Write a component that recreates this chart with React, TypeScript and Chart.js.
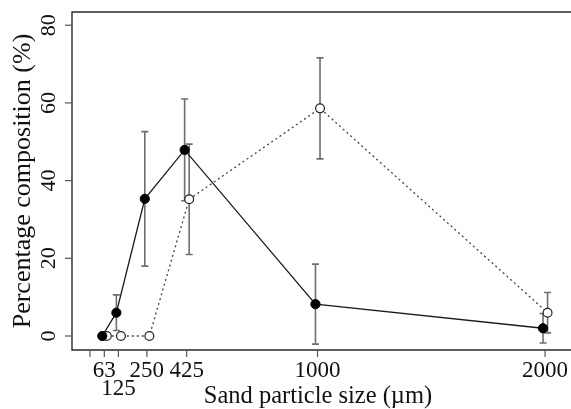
import React, { useEffect, useRef } from "react";
import { Chart, registerables } from "chart.js";

Chart.register(...registerables);

// ---- data ----
const sizes = [63, 125, 250, 425, 1000, 2000];
const filledMean = [0, 6.0, 35.3, 47.9, 8.2, 2.0];
const filledErr = [0, 4.6, 17.3, 13.1, 10.3, 3.8];
const openMean = [0, 0, 0, 35.2, 58.6, 6.0];
const openErr = [0, 0, 0, 14.2, 13.0, 5.2];
const xTickValues = [0, 63, 125, 250, 425, 1000, 2000];
const xTickLabels = ["", "63", "125", "250", "425", "1000", "2000"];
const xTickRow = [0, 0, 1, 0, 0, 0, 0];
const yTickValues = [0, 20, 40, 60, 80];
const xTitle = "Sand particle size (\u00b5m)";
const yTitle = "Percentage composition (%)";

const FILLED_SHIFT = -9;
const OPEN_SHIFT = 11;
const FONT = "'Liberation Serif', 'Times New Roman', serif";

const App = () => {
  const ref = useRef<HTMLCanvasElement | null>(null);

  useEffect(() => {
    if (!ref.current) return;

    const filledPts = sizes.map((s, i) => ({ x: s + FILLED_SHIFT, y: filledMean[i] }));
    const openPts = sizes.map((s, i) => ({ x: s + OPEN_SHIFT, y: openMean[i] }));

    const errorBars = {
      id: "errorBars",
      beforeDatasetsDraw(chart: any) {
        const { ctx, scales } = chart;
        const xs = scales.x, ys = scales.y;
        ctx.save();
        ctx.strokeStyle = "#6e6e6e";
        ctx.lineWidth = 1.6;
        const draw = (pts: any[], errs: number[]) => {
          pts.forEach((p, i) => {
            const e = errs[i];
            if (!e) return;
            const px = xs.getPixelForValue(p.x);
            const top = ys.getPixelForValue(p.y + e);
            const bot = ys.getPixelForValue(p.y - e);
            ctx.beginPath();
            ctx.moveTo(px, top);
            ctx.lineTo(px, bot);
            ctx.moveTo(px - 3.5, top);
            ctx.lineTo(px + 3.5, top);
            ctx.moveTo(px - 3.5, bot);
            ctx.lineTo(px + 3.5, bot);
            ctx.stroke();
          });
        };
        draw(filledPts, filledErr);
        draw(openPts, openErr);
        ctx.restore();
      },
    };

    const axesPlugin = {
      id: "axesR",
      afterDraw(chart: any) {
        const { ctx, scales, chartArea } = chart;
        const xs = scales.x, ys = scales.y;
        const { left, top, right, bottom } = chartArea;
        ctx.save();
        ctx.strokeStyle = "#2a2a2a";
        ctx.lineWidth = 1.4;
        ctx.beginPath();
        ctx.moveTo(right, top);
        ctx.lineTo(left, top);
        ctx.lineTo(left, bottom);
        ctx.lineTo(right, bottom);
        ctx.stroke();

        ctx.strokeStyle = "#555";
        ctx.lineWidth = 1.2;
        yTickValues.forEach((v) => {
          const py = ys.getPixelForValue(v);
          ctx.beginPath();
          ctx.moveTo(left - 7, py);
          ctx.lineTo(left, py);
          ctx.stroke();
        });
        xTickValues.forEach((v) => {
          const px = xs.getPixelForValue(v);
          ctx.beginPath();
          ctx.moveTo(px, bottom);
          ctx.lineTo(px, bottom + 7);
          ctx.stroke();
        });

        ctx.fillStyle = "#111";
        ctx.textAlign = "center";
        ctx.textBaseline = "alphabetic";
        ctx.font = `23px ${FONT}`;
        xTickValues.forEach((v, i) => {
          const px = xs.getPixelForValue(v);
          ctx.fillText(xTickLabels[i], px, bottom + 27 + xTickRow[i] * 18);
        });
        ctx.font = `22px ${FONT}`;
        yTickValues.forEach((v) => {
          const py = ys.getPixelForValue(v);
          ctx.save();
          ctx.translate(left - 17, py);
          ctx.rotate(-Math.PI / 2);
          ctx.fillText(String(v), 0, 0);
          ctx.restore();
        });

        ctx.font = `24.5px ${FONT}`;
        ctx.fillText(xTitle, left + 246, bottom + 53);
        ctx.font = `26px ${FONT}`;
        ctx.save();
        ctx.translate(left - 42, (top + bottom) / 2);
        ctx.rotate(-Math.PI / 2);
        ctx.fillText(yTitle, 0, 0);
        ctx.restore();
        ctx.restore();
      },
    };

    const chart = new Chart(ref.current, {
      type: "scatter",
      data: {
        datasets: [
          {
            label: "filled",
            data: filledPts,
            showLine: true,
            borderColor: "#1a1a1a",
            borderWidth: 1.3,
            pointRadius: 4.6,
            pointBackgroundColor: "#000",
            pointBorderColor: "#000",
            pointBorderWidth: 1,
          },
          {
            label: "open",
            data: openPts,
            showLine: true,
            borderColor: "#444",
            borderWidth: 1.3,
            borderDash: [2, 3],
            pointRadius: 4.4,
            pointBackgroundColor: "#fff",
            pointBorderColor: "#222",
            pointBorderWidth: 1.2,
          },
        ],
      },
      options: {
        responsive: false,
        animation: false,
        layout: { autoPadding: false, padding: { left: 72, top: 12, right: 0, bottom: 59 } },
        plugins: { legend: { display: false }, tooltip: { enabled: false } },
        scales: {
          x: { type: "linear", display: false, min: -79, max: 2114 },
          y: { type: "linear", display: false, min: -3.6, max: 83.4 },
        },
      },
      plugins: [errorBars, axesPlugin],
    });
    return () => chart.destroy();
  }, []);

  return (
    <div style={{ position: "fixed", left: 0, top: 0, width: 571, height: 409, background: "#fff" }}>
      <canvas ref={ref} width={571} height={409} style={{ display: "block" }} />
    </div>
  );
};

export default App;
